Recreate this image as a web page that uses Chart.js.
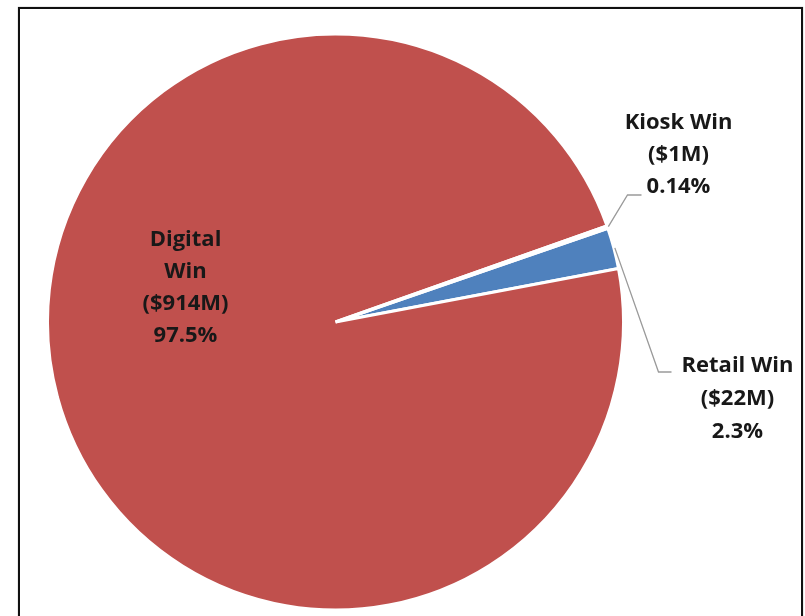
<!DOCTYPE html>
<html>
<head>
<meta charset="utf-8">
<script src="https://cdn.jsdelivr.net/npm/chart.js@4.4.1/dist/chart.umd.min.js"></script>
<style>
  html, body { margin: 0; padding: 0; background: #fff; }
  #wrap { position: relative; width: 805px; height: 616px; overflow: hidden; }
  #frame { position: absolute; left: 18px; top: 7px; width: 781px; height: 640px;
           border: 2px solid #111; box-shadow: 0 0 1px #888; }
  canvas { position: absolute; left: 0; top: 0; }
</style>
</head>
<body>
<div id="wrap">
  <div id="frame"></div>
  <canvas id="winPie" width="805" height="616"></canvas>
</div>
<script>
// order as in the source sheet: Retail, Digital, Kiosk
const categories = ['Retail Win', 'Digital Win', 'Kiosk Win'];
const winMillions = ['$22M', '$914M', '$1M'];
const shares = [2.3, 97.5, 0.14];
const shareLabels = ['2.3%', '97.5%', '0.14%'];

const colors = ['#4F81BD', '#C0504D', '#9BBB59'];

// label placement, relative to pie centre / radius
const labelLayout = [
  { lines: ['Retail Win', '($22M)', '2.3%'], x: 402, y: 44, step: 33, elbow: [323, 50], end: 336 },
  { lines: ['Digital', 'Win', '($914M)', '97.5%'], x: -150, y: -82, step: 32 },
  { lines: ['Kiosk Win', '($1M)', '0.14%'], x: 343, y: -199, step: 32, elbow: [292, -127], end: 306 }
];

const pieLabels = {
  id: 'pieLabels',
  afterDraw(chart) {
    const ctx = chart.ctx;
    const meta = chart.getDatasetMeta(0);
    ctx.save();
    ctx.font = 'bold 22px "Open Sans", sans-serif';
    ctx.fillStyle = '#181818';
    ctx.textAlign = 'center';
    ctx.textBaseline = 'middle';
    meta.data.forEach((arc, i) => {
      const cx = arc.x, cy = arc.y;
      const lay = labelLayout[i];
      if (lay.elbow) {
        const mid = (arc.startAngle + arc.endAngle) / 2;
        const r = arc.outerRadius + 1;
        ctx.beginPath();
        ctx.strokeStyle = '#9a9a9a';
        ctx.lineWidth = 1.3;
        ctx.moveTo(cx + Math.cos(mid) * r, cy + Math.sin(mid) * r);
        ctx.lineTo(cx + lay.elbow[0], cy + lay.elbow[1]);
        ctx.lineTo(cx + lay.end, cy + lay.elbow[1]);
        ctx.stroke();
      }
      lay.lines.forEach((t, k) => {
        ctx.fillText(t, cx + lay.x, cy + lay.y + k * lay.step);
      });
    });
    ctx.restore();
  }
};

new Chart(document.getElementById('winPie'), {
  type: 'pie',
  data: {
    labels: categories,
    datasets: [{
      data: shares,
      backgroundColor: colors,
      borderColor: '#ffffff',
      borderWidth: 3
    }]
  },
  options: {
    responsive: false,
    animation: false,
    devicePixelRatio: 1,
    rotation: 71,
    layout: { padding: { left: 46, right: 180, top: 32, bottom: 4 } },
    plugins: {
      legend: { display: false },
      tooltip: { enabled: false }
    }
  },
  plugins: [pieLabels]
});
</script>
</body>
</html>
